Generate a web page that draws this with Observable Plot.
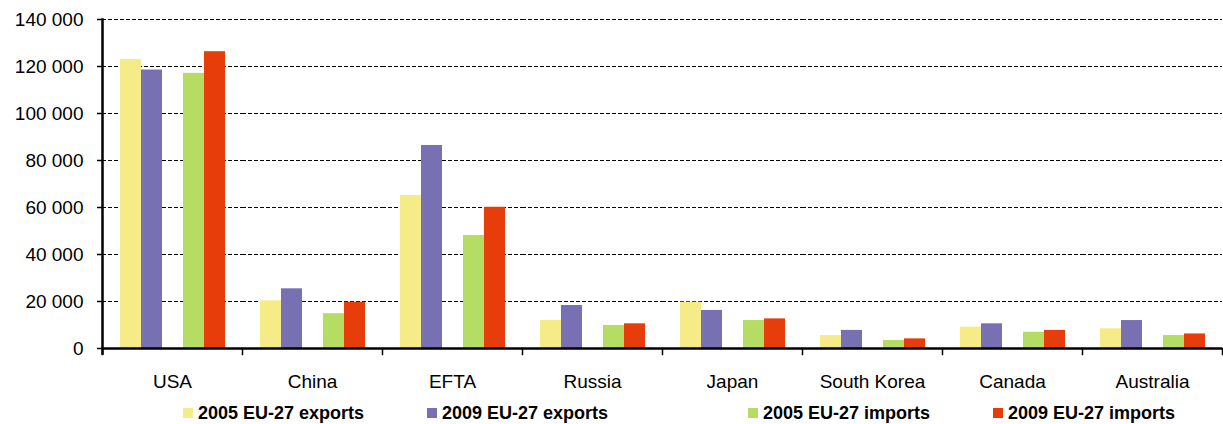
<!DOCTYPE html>
<html>
<head>
<meta charset="utf-8">
<script src="https://cdn.jsdelivr.net/npm/d3@7"></script>
<script src="https://cdn.jsdelivr.net/npm/@observablehq/plot@0.6"></script>
<style>
  body { margin: 0; background: #fff; font-family: "Liberation Sans", Arial, sans-serif; }
  #chart svg { display: block; }
  #legend { position: relative; height: 26px; width: 1223px; }
  .item { position: absolute; top: 0; height: 30px; display: flex; align-items: center; font-weight: bold; font-size: 18px; color: #000; white-space: nowrap; }
  .sw { width: 10px; height: 10px; margin-right: 5px; }
</style>
</head>
<body>
<div id="chart"></div>
<div id="legend"></div>
<script>
const countries = ["USA", "China", "EFTA", "Russia", "Japan", "South Korea", "Canada", "Australia"];
const exports2005 = [123000, 20300, 65100, 11900, 19700, 5500, 9100, 8400];
const exports2009 = [118500, 25400, 86400, 18300, 16200, 7700, 10500, 11900];
const imports2005 = [117100, 14800, 48100, 9800, 11900, 3400, 6900, 5500];
const imports2009 = [126300, 19700, 60100, 10500, 12600, 4100, 7700, 6200];
const seriesKeys = ["e05", "e09", "i05", "i09"];
const seriesLabels = ["2005 EU-27 exports", "2009 EU-27 exports", "2005 EU-27 imports", "2009 EU-27 imports"];
const seriesColors = ["#F5EC88", "#7771B4", "#B5DC63", "#E63D0A"];
const slotOrder = ["e05", "e09", "gap", "i05", "i09"];
const yTicks = [0, 20000, 40000, 60000, 80000, 100000, 120000, 140000];

const seriesValues = [exports2005, exports2009, imports2005, imports2009];
const data = [];
countries.forEach((c, i) => {
  seriesKeys.forEach((s, j) => data.push({country: c, series: s, value: seriesValues[j][i]}));
});

const fmt = d3.formatLocale({thousands: " ", grouping: [3], decimal: ","}).format(",");

const W = 1223, H = 398, mTop = 19, mBottom = 50;
const plotH = H - mTop - mBottom;

const chart = Plot.plot({
  width: W,
  height: H,
  marginLeft: 101,
  marginRight: 0,
  marginTop: mTop,
  marginBottom: mBottom,
  style: {fontFamily: "'Liberation Sans', Arial, sans-serif", fontSize: "19px", color: "#000", background: "#fff"},
  fx: {domain: countries, padding: 0, label: null, axis: null},
  x: {domain: slotOrder, paddingInner: 0, paddingOuter: 0.79, axis: null},
  y: {domain: [0, 140000], axis: null},
  color: {domain: seriesKeys, range: seriesColors},
  marks: [
    Plot.gridY(yTicks.filter(d => d > 0), {stroke: "#000", strokeOpacity: 1, strokeWidth: 1.2, strokeDasharray: "4,2"}),
    Plot.barY(data, {fx: "country", x: "series", y: "value", fill: "series"}),
    Plot.ruleY([0], {stroke: "#000", strokeWidth: 2.5}),
    Plot.frame({anchor: "left", facetAnchor: "left", stroke: "#000", strokeWidth: 2.5, insetBottom: -5}),
    Plot.frame({anchor: "left", stroke: "#000", strokeWidth: 1.5, insetTop: plotH, insetBottom: -6}),
    Plot.frame({anchor: "right", facetAnchor: "right", stroke: "#000", strokeWidth: 1.5, insetTop: plotH, insetBottom: -6}),
    Plot.axisY({ticks: yTicks, tickFormat: fmt, tickSize: 5, tickPadding: 14, label: null, fontSize: 19, stroke: "#000", strokeWidth: 1.5}),
    Plot.axisFx({anchor: "bottom", tickSize: 0, tickPadding: 26, label: null, fontSize: 19})
  ]
});
document.getElementById("chart").appendChild(chart);

const legendLefts = [183, 427, 748, 993];
const legend = document.getElementById("legend");
seriesLabels.forEach((label, i) => {
  const item = document.createElement("div");
  item.className = "item";
  item.style.left = legendLefts[i] + "px";
  const sw = document.createElement("div");
  sw.className = "sw";
  sw.style.background = seriesColors[i];
  const t = document.createElement("span");
  t.textContent = label;
  item.appendChild(sw);
  item.appendChild(t);
  legend.appendChild(item);
});
</script>
</body>
</html>
